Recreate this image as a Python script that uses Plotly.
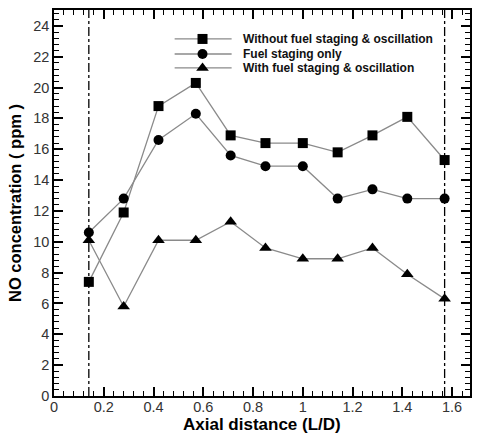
import plotly.graph_objects as go

# Axial measurement stations (L/D)
axial_distance = [0.14, 0.28, 0.42, 0.57, 0.71, 0.85, 1.00, 1.14, 1.28, 1.42, 1.57]

# NO concentration (ppm) for each case
no_without_staging = [7.4, 11.9, 18.8, 20.3, 16.9, 16.4, 16.4, 15.8, 16.9, 18.1, 15.3]
no_staging_only = [10.6, 12.8, 16.6, 18.3, 15.6, 14.9, 14.9, 12.8, 13.4, 12.8, 12.8]
no_staging_oscillation = [10.1, 5.8, 10.1, 10.1, 11.3, 9.6, 8.9, 8.9, 9.6, 7.9, 6.3]

series_names = [
    "Without fuel staging & oscillation",
    "Fuel staging only",
    "With fuel staging & oscillation",
]
series_symbols = ["square", "circle", "triangle-up"]

# Boundaries of the measurement region
region_bounds = [0.14, 1.57]

FONT = "Arial, Liberation Sans, sans-serif"
LINE_COLOR = "#8a8a8a"

fig = go.Figure()

for name, values, sym in zip(series_names,
                             [no_without_staging, no_staging_only, no_staging_oscillation],
                             series_symbols):
    fig.add_trace(go.Scatter(
        x=axial_distance, y=values, mode="lines+markers", name=name,
        line=dict(color=LINE_COLOR, width=1.3),
        marker=dict(symbol=sym, size=10 if sym != "triangle-up" else 11, color="black"),
        showlegend=False,
    ))

# Key drawn on an overlay axis spanning the plot area (0..1 in both directions)
key_y = [0.925, 0.886, 0.850]
for name, sym, ky in zip(series_names, series_symbols, key_y):
    fig.add_trace(go.Scatter(
        x=[0.29, 0.357, 0.427], y=[ky, ky, ky], mode="lines",
        line=dict(color=LINE_COLOR, width=1.3), xaxis="x2", yaxis="y2",
        showlegend=False, hoverinfo="skip",
    ))
    fig.add_trace(go.Scatter(
        x=[0.357], y=[ky], mode="markers",
        marker=dict(symbol=sym, size=10 if sym != "triangle-up" else 11, color="black"),
        xaxis="x2", yaxis="y2", showlegend=False, hoverinfo="skip",
    ))
    fig.add_annotation(
        x=0.45, y=ky, xref="x2", yref="y2", text=name, showarrow=False,
        xanchor="left", yanchor="middle",
        font=dict(family=FONT, size=12, color="#111111", weight="bold"),
    )

for xb in region_bounds:
    fig.add_shape(type="line", x0=xb, x1=xb, y0=0, y1=1, xref="x", yref="paper",
                  line=dict(color="black", width=1.3, dash="dashdot"))

# Axis titles
fig.add_annotation(
    x=0.5, y=0, xref="paper", yref="paper", yshift=-28, text="Axial distance (L/D)",
    showarrow=False, xanchor="center", yanchor="middle",
    font=dict(family=FONT, size=17, color="black", weight="bold"),
)
fig.add_annotation(
    x=0, y=0.5, xref="paper", yref="paper", xshift=-39, text="NO concentration ( ppm )",
    showarrow=False, xanchor="center", yanchor="middle", textangle=-90,
    font=dict(family=FONT, size=16.5, color="black", weight="bold"),
)

axis_common = dict(
    showgrid=False, zeroline=False, showline=True, linecolor="black", linewidth=1.5,
    mirror="allticks", ticks="inside", ticklen=9, tickwidth=1.5, tickcolor="black",
    tickfont=dict(family=FONT, size=14.5, color="#333333"),
)

fig.update_layout(
    width=477, height=436,
    margin=dict(l=54, r=5, t=10, b=40),
    paper_bgcolor="white", plot_bgcolor="white",
    xaxis=dict(
        range=[0, 1.672], dtick=0.2, tick0=0, ticklabelstandoff=-3,
        minor=dict(dtick=0.04, ticks="inside", ticklen=5, tickcolor="black", tickwidth=1),
        **axis_common,
    ),
    yaxis=dict(
        range=[0, 25.03], dtick=2, tick0=0,
        minor=dict(dtick=0.4, ticks="inside", ticklen=5, tickcolor="black", tickwidth=1),
        **axis_common,
    ),
    xaxis2=dict(range=[0, 1], overlaying="x", visible=False, fixedrange=True),
    yaxis2=dict(range=[0, 1], overlaying="y", visible=False, fixedrange=True),
)

fig.write_html("out.html")
